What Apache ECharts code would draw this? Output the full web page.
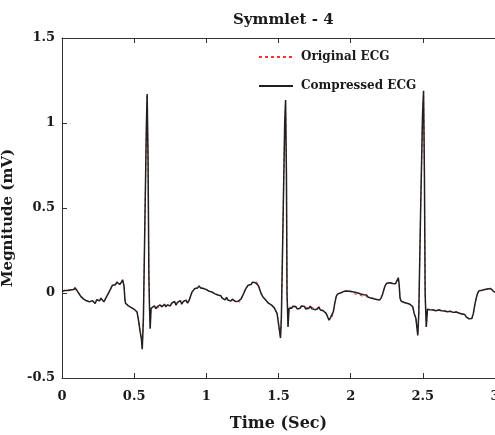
<!DOCTYPE html>
<html>
<head>
<meta charset="utf-8">
<script src="https://cdn.jsdelivr.net/npm/echarts@6/dist/echarts.min.js"></script>
<style>
  html, body { margin: 0; padding: 0; background: #fff; }
  #chart { width: 495px; height: 435px; }
</style>
</head>
<body>
<div id="chart"></div>
<script>
// Time stamps (s) of the ECG samples
const time = [
  0.000,0.010,0.020,0.030,0.040,0.050,0.060,0.070,0.080,0.090,
  0.100,0.110,0.120,0.130,0.140,0.150,0.160,0.170,0.180,0.190,
  0.200,0.210,0.220,0.230,0.240,0.250,0.260,0.270,0.280,0.290,
  0.300,0.310,0.320,0.330,0.340,0.350,0.360,0.370,0.380,0.390,
  0.400,0.410,0.420,0.430,0.436,0.440,0.450,0.460,0.470,0.480,
  0.490,0.500,0.510,0.520,0.530,0.540,0.550,0.556,0.564,0.574,
  0.585,0.590,0.596,0.602,0.606,0.611,0.617,
  0.630,0.640,0.650,0.660,0.670,0.680,0.690,0.700,0.710,0.720,
  0.730,0.740,0.750,0.760,0.770,0.780,0.790,0.800,0.810,0.820,
  0.830,0.840,0.850,0.860,0.870,0.880,0.890,0.900,0.910,0.920,
  0.930,0.940,0.950,0.960,0.970,0.980,0.990,1.000,1.010,1.020,
  1.030,1.040,1.050,1.060,1.070,1.080,1.090,1.100,1.110,1.120,
  1.130,1.140,1.150,1.160,1.170,1.180,1.190,1.200,1.210,1.220,
  1.230,1.240,1.250,1.260,1.270,1.280,1.290,1.300,1.310,1.320,
  1.330,1.340,1.350,1.360,1.370,1.380,1.390,1.400,1.410,1.420,
  1.430,1.440,1.450,1.460,1.470,1.480,1.490,1.500,1.514,1.520,
  1.532,1.543,1.549,1.555,1.559,1.562,1.566,1.573,
  1.580,1.590,1.600,1.610,1.620,1.630,1.640,1.650,1.660,1.670,
  1.680,1.690,1.700,1.710,1.720,1.730,1.740,1.750,1.760,1.770,
  1.780,1.790,1.800,1.810,1.820,1.830,1.840,1.850,1.860,1.870,
  1.880,1.890,1.900,1.910,1.920,1.930,1.940,1.950,1.960,1.970,
  1.980,1.990,2.000,2.010,2.020,2.030,2.040,2.050,2.060,2.070,
  2.080,2.090,2.100,2.110,2.120,2.130,2.140,2.150,2.160,2.170,
  2.180,2.190,2.200,2.210,2.220,2.230,2.240,2.250,2.260,2.270,
  2.280,2.290,2.300,2.310,2.320,2.330,2.336,2.342,2.350,2.360,
  2.370,2.380,2.390,2.400,2.410,2.420,2.430,2.440,2.452,2.465,
  2.472,2.485,2.498,2.505,2.511,2.516,2.519,2.524,2.532,
  2.540,2.550,2.560,2.570,2.580,2.590,2.600,2.610,2.620,2.630,
  2.640,2.650,2.660,2.670,2.680,2.690,2.700,2.710,2.720,2.730,
  2.740,2.750,2.760,2.770,2.780,2.790,2.800,2.810,2.820,2.830,
  2.840,2.850,2.860,2.870,2.880,2.890,2.900,2.910,2.920,2.930,
  2.940,2.950,2.960,2.970,2.980,2.990,3.000
];

// Reconstructed (compressed) signal, mV
const compressed = [
  0.010,0.020,0.015,0.022,0.015,0.025,0.018,0.026,0.020,0.032,
  0.020,0.006,-0.004,-0.020,-0.026,-0.036,-0.030,-0.046,-0.040,-0.052,
  -0.056,-0.045,-0.050,-0.062,-0.040,-0.034,-0.046,-0.030,-0.040,-0.052,
  -0.036,-0.020,-0.004,0.012,0.030,0.046,0.056,0.048,0.064,0.054,
  0.050,0.062,0.078,0.040,-0.040,-0.060,-0.066,-0.076,-0.068,-0.086,
  -0.080,-0.096,-0.090,-0.112,-0.160,-0.220,-0.270,-0.330,-0.150,0.400,
  1.000,1.170,0.800,0.100,-0.080,-0.210,-0.090,
  -0.085,-0.075,-0.092,-0.080,-0.087,-0.070,-0.082,-0.074,-0.066,-0.082,
  -0.070,-0.060,-0.076,-0.060,-0.066,-0.050,-0.072,-0.055,-0.062,-0.045,
  -0.066,-0.050,-0.060,-0.042,-0.060,-0.045,-0.020,0.005,0.016,0.026,
  0.036,0.030,0.042,0.030,0.036,0.026,0.032,0.020,0.025,0.010,
  0.016,0.005,0.010,-0.005,0.000,-0.012,-0.020,-0.016,-0.030,-0.024,
  -0.040,-0.026,-0.042,-0.034,-0.048,-0.036,-0.046,-0.050,-0.040,-0.048,
  -0.052,-0.036,-0.018,0.000,0.020,0.034,0.046,0.054,0.050,0.064,
  0.072,0.060,0.066,0.044,0.020,-0.004,-0.020,-0.030,-0.040,-0.046,
  -0.060,-0.055,-0.070,-0.080,-0.086,-0.092,-0.120,-0.180,-0.265,-0.140,
  0.450,1.000,1.135,0.700,0.000,-0.080,-0.200,-0.090,
  -0.082,-0.090,-0.078,-0.088,-0.080,-0.094,-0.084,-0.090,-0.076,-0.086,
  -0.080,-0.095,-0.084,-0.090,-0.078,-0.092,-0.086,-0.098,-0.088,-0.094,
  -0.082,-0.100,-0.090,-0.104,-0.096,-0.120,-0.140,-0.160,-0.145,-0.150,
  -0.110,-0.060,-0.020,-0.005,0.004,0.000,0.010,0.008,0.018,0.012,
  0.020,0.010,0.004,0.008,-0.002,0.004,-0.006,0.000,-0.010,-0.006,
  -0.016,-0.010,-0.020,-0.012,-0.024,-0.018,-0.030,-0.022,-0.034,-0.026,
  -0.038,-0.030,-0.042,-0.030,-0.010,0.020,0.045,0.058,0.066,0.060,
  0.068,0.056,0.062,0.054,0.060,0.090,0.050,-0.030,-0.048,-0.044,
  -0.056,-0.050,-0.060,-0.054,-0.066,-0.062,-0.080,-0.120,-0.150,-0.250,
  -0.120,0.500,1.050,1.190,0.700,0.000,-0.080,-0.200,-0.095,
  -0.092,-0.098,-0.088,-0.100,-0.092,-0.104,-0.094,-0.100,-0.090,-0.104,
  -0.096,-0.106,-0.098,-0.110,-0.102,-0.108,-0.100,-0.114,-0.106,-0.112,
  -0.104,-0.118,-0.112,-0.124,-0.130,-0.126,-0.140,-0.146,-0.152,-0.144,
  -0.150,-0.120,-0.070,-0.030,0.000,0.014,0.020,0.016,0.026,0.020,
  0.030,0.024,0.032,0.026,0.018,0.010,0.004
];

// Original recorded signal, mV
const original = [
  0.012,0.018,0.016,0.020,0.017,0.023,0.020,0.024,0.022,0.030,
  0.018,0.008,-0.006,-0.018,-0.028,-0.034,-0.032,-0.044,-0.042,-0.050,
  -0.054,-0.047,-0.052,-0.060,-0.042,-0.036,-0.044,-0.032,-0.042,-0.050,
  -0.038,-0.022,-0.006,0.010,0.028,0.044,0.054,0.050,0.062,0.056,
  0.052,0.060,0.074,0.042,-0.036,-0.058,-0.068,-0.074,-0.070,-0.084,
  -0.082,-0.094,-0.092,-0.110,-0.158,-0.218,-0.272,-0.326,-0.152,0.398,
  0.996,1.166,0.802,0.104,-0.078,-0.206,-0.092,
  -0.083,-0.077,-0.090,-0.082,-0.085,-0.072,-0.080,-0.076,-0.068,-0.080,
  -0.072,-0.062,-0.074,-0.062,-0.064,-0.052,-0.070,-0.057,-0.060,-0.047,
  -0.064,-0.052,-0.058,-0.044,-0.058,-0.047,-0.022,0.003,0.014,0.024,
  0.034,0.032,0.040,0.032,0.034,0.028,0.030,0.022,0.023,0.012,
  0.014,0.007,0.008,-0.003,-0.002,-0.010,-0.022,-0.018,-0.028,-0.026,
  -0.038,-0.028,-0.040,-0.036,-0.046,-0.038,-0.044,-0.052,-0.042,-0.046,
  -0.054,-0.038,-0.020,-0.002,0.018,0.032,0.044,0.052,0.052,0.062,
  0.070,0.062,0.064,0.046,0.022,-0.002,-0.022,-0.028,-0.042,-0.044,
  -0.058,-0.057,-0.068,-0.078,-0.088,-0.090,-0.118,-0.178,-0.262,-0.142,
  0.446,0.996,1.131,0.704,0.004,-0.078,-0.196,-0.092,
  -0.080,-0.092,-0.080,-0.086,-0.082,-0.092,-0.086,-0.088,-0.078,-0.084,
  -0.082,-0.093,-0.086,-0.088,-0.080,-0.090,-0.088,-0.096,-0.090,-0.092,
  -0.084,-0.098,-0.092,-0.102,-0.098,-0.118,-0.142,-0.158,-0.147,-0.148,
  -0.112,-0.058,-0.022,-0.007,0.002,0.002,0.008,0.010,0.016,0.014,
  0.018,0.012,0.002,0.010,-0.004,0.006,-0.008,0.002,-0.012,-0.004,
  -0.018,-0.008,-0.022,-0.014,-0.022,-0.020,-0.028,-0.024,-0.032,-0.028,
  -0.036,-0.032,-0.040,-0.032,-0.012,0.018,0.043,0.056,0.064,0.062,
  0.066,0.058,0.060,0.056,0.058,0.086,0.052,-0.028,-0.046,-0.046,
  -0.054,-0.052,-0.058,-0.056,-0.064,-0.064,-0.078,-0.118,-0.152,-0.246,
  -0.122,0.496,1.046,1.186,0.704,0.004,-0.078,-0.196,-0.097,
  -0.090,-0.100,-0.090,-0.098,-0.094,-0.102,-0.096,-0.098,-0.092,-0.102,
  -0.098,-0.104,-0.100,-0.108,-0.104,-0.106,-0.102,-0.112,-0.108,-0.110,
  -0.106,-0.116,-0.114,-0.122,-0.132,-0.124,-0.138,-0.148,-0.150,-0.146,
  -0.148,-0.122,-0.068,-0.032,-0.002,0.012,0.022,0.014,0.024,0.022,
  0.028,0.026,0.030,0.028,0.016,0.012,0.002
];

const xTicks = [0, 0.5, 1, 1.5, 2, 2.5, 3];
const yTicks = [-0.5, 0, 0.5, 1, 1.5];

const serif = '"DejaVu Serif", "Liberation Serif", serif';
const ink = '#1a1a1a';
const axisInk = '#333333';

const pairs = (vals) => time.map((t, i) => [t, vals[i]]);

const chart = echarts.init(document.getElementById('chart'), null, { renderer: 'canvas' });

chart.setOption({
  animation: false,
  backgroundColor: '#ffffff',
  title: {
    text: 'Symmlet - 4',
    left: 228,
    top: 8,
    textStyle: { fontFamily: serif, fontWeight: 'bold', fontSize: 15, color: ink }
  },
  legend: {
    orient: 'vertical',
    left: 258,
    top: 51,
    padding: 0,
    itemWidth: 34,
    itemHeight: 14,
    itemGap: 17,
    data: ['Original ECG', 'Compressed ECG'],
    itemStyle: { opacity: 0 },
    textStyle: { fontFamily: serif, fontWeight: 'bold', fontSize: 12, color: ink, padding: [0, 0, 0, 3] }
  },
  grid: { left: 62, top: 38, right: 0, bottom: 57, containLabel: false, outerBoundsMode: 'none' },
  xAxis: [{
    type: 'value',
    min: xTicks[0],
    max: xTicks[xTicks.length - 1],
    interval: 0.5,
    name: 'Time (Sec)',
    nameLocation: 'middle',
    nameGap: 38,
    nameTextStyle: { fontFamily: serif, fontWeight: 'bold', fontSize: 16, color: ink },
    axisLine: { onZero: false, lineStyle: { color: axisInk, width: 1 } },
    axisTick: { inside: true, length: 5, lineStyle: { color: axisInk } },
    axisLabel: {
      margin: 12,
      fontFamily: serif, fontWeight: 'bold', fontSize: 13, color: ink,
      formatter: (v) => String(v)
    },
    splitLine: { show: false }
  }, {
    type: 'value',
    position: 'top',
    min: xTicks[0],
    max: xTicks[xTicks.length - 1],
    interval: 0.5,
    axisLine: { show: true, onZero: false, lineStyle: { color: axisInk, width: 1 } },
    axisTick: { inside: true, length: 5, lineStyle: { color: axisInk } },
    axisLabel: { show: false },
    splitLine: { show: false }
  }],
  yAxis: {
    type: 'value',
    min: yTicks[0],
    max: yTicks[yTicks.length - 1],
    interval: 0.5,
    name: 'Megnitude (mV)',
    nameLocation: 'middle',
    nameGap: 31,
    nameTextStyle: {
      fontFamily: serif, fontWeight: 'bold', fontSize: 15, color: ink,
      padding: [0, 20, 0, 0]
    },
    axisLine: { show: true, onZero: false, lineStyle: { color: axisInk, width: 1 } },
    axisTick: { show: true, inside: true, length: 5, lineStyle: { color: axisInk } },
    axisLabel: {
      margin: 7,
      fontFamily: serif, fontWeight: 'bold', fontSize: 13, color: ink,
      formatter: (v) => String(v)
    },
    splitLine: { show: false }
  },
  series: [{
    name: 'Original ECG',
    type: 'line',
    xAxisIndex: 0,
    data: pairs(original),
    showSymbol: false,
    symbol: 'none',
    lineStyle: { color: '#ff3030', width: 1, type: [3, 3] },
    itemStyle: { color: '#ff3030' },
    z: 2
  }, {
    name: 'Compressed ECG',
    type: 'line',
    xAxisIndex: 0,
    data: pairs(compressed),
    showSymbol: false,
    symbol: 'none',
    lineStyle: { color: '#202020', width: 1.5 },
    itemStyle: { color: '#202020' },
    z: 3
  }]
});
</script>
</body>
</html>
